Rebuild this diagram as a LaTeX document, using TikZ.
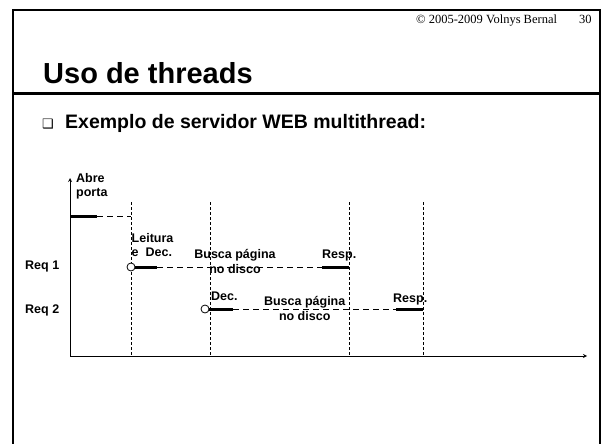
\documentclass[tikz,border=0pt]{standalone}
\usepackage{fontspec}
\setmainfont{Liberation Sans}
\newfontfamily\hdrfont{Liberation Serif}
\newfontfamily\symfont{DejaVu Sans}
\usepackage{tikz}
\usetikzlibrary{arrows, positioning}
\tikzset{
	slideframe/.style={
		line width=2.5pt
	},
	lbl/.style={
		inner sep=0pt,
		font=\bfseries\fontsize{12.5}{14.5}\selectfont
	},
	busy/.style={
		line width=3pt
	},
	idle/.style={
		line width=1pt,
		dash pattern=on 6pt off 4pt
	},
	divider/.style={
		line width=0.8pt,
		dash pattern=on 3pt off 2pt
	},
	evt/.style={
		circle,
		draw=black,
		fill=white,
		line width=0.8pt,
		minimum size=8pt,
		inner sep=0pt
	},
	axis/.style={thick,->,>=stealth}
}

\begin{document}
\begin{tikzpicture}[x=1pt, y=-1pt]
	\useasboundingbox (0,0) rectangle (602,444);

	% Slide frame and header
	\coordinate (tl) at (13,10);
	\coordinate (tr) at (600,10);
	\coordinate (bl) at (13,444);
	\coordinate (br) at (600,444);
	\coordinate (hl) at (13,93);
	\coordinate (hr) at (600,93);
	\draw [slideframe] (bl) -- (tl) -- (tr) -- (br);
	\draw [line width=3pt] (hl) -- (hr);

	\node (copy) [anchor=base west, inner sep=0pt, font=\hdrfont\fontsize{12.5}{14}\selectfont] at (416,24) {© 2005-2009 Volnys Bernal};
	\node (page) [anchor=base west, inner sep=0pt, font=\hdrfont\fontsize{12.5}{14}\selectfont] at (579,24) {30};
	\node (title) [anchor=base west, inner sep=0pt, font=\bfseries\fontsize{29}{34}\selectfont] at (43,83) {Uso de threads};
	\node (bullet) [anchor=base west, inner sep=0pt, font=\symfont\fontsize{13}{15}\selectfont] at (42,128) {❑};
	\node (intro) [anchor=base west, inner sep=0pt, font=\bfseries\fontsize{19.5}{23}\selectfont] at (65,128) {Exemplo de servidor WEB multithread:};

	% Axes
	\coordinate (o) at (70,356);
	\coordinate (ytop) at (70,178);
	\coordinate (xend) at (587,356);
	\draw [axis] (o) -- (ytop);
	\draw [axis] (o) -- (xend);

	\foreach \x [count=\i] in {131,210,349,423} {
		\coordinate (top\i) at (\x,202);
		\coordinate (bot\i) at (\x,356);
		\draw [divider] (top\i) -- (bot\i);
	}

	% Abre porta
	\coordinate (a0) at (70,216);
	\coordinate (a1) at (97,216);
	\coordinate (a2) at (131,216);
	\draw [busy] (a0) -- (a1);
	\draw [idle] (a1) -- (a2);
	\node (abre) [lbl, anchor=north west, align=left] at (76,173) {Abre\\porta};

	% Req 1
	\node (req1) [lbl, anchor=base west] at (25,269) {Req 1};
	\node (r1s) [evt] at (131,267) {};
	\coordinate (r1a) at (157,267);
	\coordinate (r1b) at (322,267);
	\coordinate (r1c) at (349,267);
	\draw [busy] (r1s.east) -- (r1a);
	\draw [idle] (r1a) -- (r1b);
	\draw [busy] (r1b) -- (r1c);
	\node (leit) [lbl, anchor=north west, align=left] at (131.5,233) {Leitura\\e\ \ Dec.};
	\node (busca1) [lbl, anchor=north, align=center] at (235,249.5) {Busca página\\no disco};
	\node (resp1) [lbl, anchor=base west] at (322,258) {Resp.};

	% Req 2
	\node (req2) [lbl, anchor=base west] at (25,313) {Req 2};
	\node (r2s) [evt] at (205,309) {};
	\coordinate (r2a) at (233,309);
	\coordinate (r2b) at (396,309);
	\coordinate (r2c) at (423,309);
	\draw [busy] (r2s.east) -- (r2a);
	\draw [idle] (r2a) -- (r2b);
	\draw [busy] (r2b) -- (r2c);
	\node (dec2) [lbl, anchor=base west] at (211,300.5) {Dec.};
	\node (busca2) [lbl, anchor=north, align=center] at (304.7,296.5) {Busca página\\no disco};
	\node (resp2) [lbl, anchor=base west] at (393,302.5) {Resp.};
\end{tikzpicture}
\end{document}
